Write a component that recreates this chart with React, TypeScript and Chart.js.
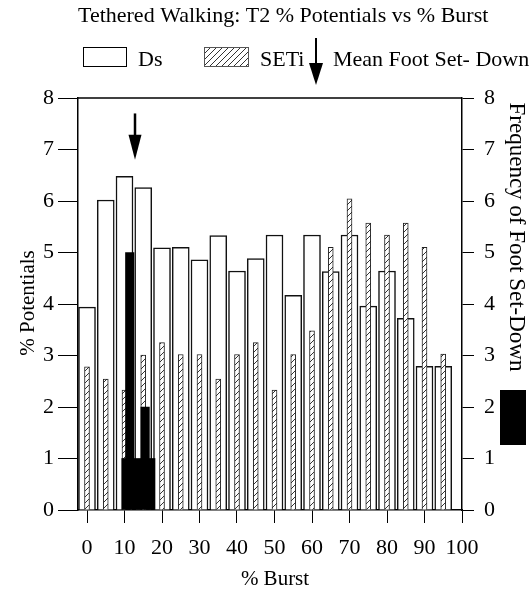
import React, { useEffect, useRef } from "react";
import { Chart, registerables } from "chart.js";
Chart.register(...registerables);

// ---- data ----
const burstBins = [0, 5, 10, 15, 20, 25, 30, 35, 40, 45, 50, 55, 60, 65, 70, 75, 80, 85, 90, 95];
const dsPotentials = [3.94, 6.02, 6.48, 6.26, 5.09, 5.1, 4.86, 5.33, 4.64, 4.88, 5.34, 4.17, 5.34, 4.63, 5.34, 3.96, 4.64, 3.72, 2.79, 2.79];
const setiPotentials = [2.78, 2.54, 2.33, 3.01, 3.25, 3.02, 3.02, 2.54, 3.02, 3.25, 2.33, 3.02, 3.48, 5.1, 6.04, 5.57, 5.34, 5.57, 5.1, 3.03];
const footSetDownX = [10.4, 11.4, 13.5, 15.5, 17.0];
const footSetDownFreq = [1, 5, 1, 2, 1];
const meanFootSetDown = 12.8;
const arrowTopValue = 7.7;
const arrowTipValue = 6.8;
const xTicks = [0, 10, 20, 30, 40, 50, 60, 70, 80, 90, 100];
const yTicks = [0, 1, 2, 3, 4, 5, 6, 7, 8];
const xMin = -2.4;
const xMax = 100;

const TITLE = "Tethered Walking: T2 % Potentials vs % Burst";
const FONT = "Liberation Serif, Times New Roman, serif";

function makeHatch(): CanvasPattern | string {
  const c = document.createElement("canvas");
  c.width = 6;
  c.height = 6;
  const g = c.getContext("2d");
  if (!g) return "#ccc";
  g.fillStyle = "#fff";
  g.fillRect(0, 0, 6, 6);
  g.strokeStyle = "#333";
  g.lineWidth = 1;
  g.beginPath();
  g.moveTo(0, 6);
  g.lineTo(6, 0);
  g.moveTo(-1, 1);
  g.lineTo(1, -1);
  g.moveTo(5, 7);
  g.lineTo(7, 5);
  g.stroke();
  const p = g.createPattern(c, "repeat");
  return p || "#ccc";
}

function drawArrow(ctx: CanvasRenderingContext2D, x: number, yTop: number, yTip: number, headLen: number, headW: number, shaftW: number) {
  ctx.save();
  ctx.strokeStyle = "#000";
  ctx.fillStyle = "#000";
  ctx.lineWidth = shaftW;
  ctx.beginPath();
  ctx.moveTo(x, yTop);
  ctx.lineTo(x, yTip - headLen + 1);
  ctx.stroke();
  ctx.beginPath();
  ctx.moveTo(x - headW / 2, yTip - headLen);
  ctx.lineTo(x + headW / 2, yTip - headLen);
  ctx.lineTo(x, yTip);
  ctx.closePath();
  ctx.fill();
  ctx.restore();
}

export default function App() {
  const ref = useRef<HTMLCanvasElement | null>(null);

  useEffect(() => {
    const canvas = ref.current;
    if (!canvas) return;
    const hatch = makeHatch();

    const decor = {
      id: "decor",
      afterDraw(chart: any) {
        const { ctx, chartArea: ca, scales } = chart;
        ctx.save();
        // top frame line
        ctx.strokeStyle = "#000";
        ctx.lineWidth = 1.5;
        ctx.beginPath();
        ctx.moveTo(ca.left, ca.top);
        ctx.lineTo(ca.right, ca.top);
        ctx.stroke();

        // mean foot set-down arrow in plot
        const ax = scales.x.getPixelForValue(meanFootSetDown);
        drawArrow(ctx, ax, scales.y.getPixelForValue(arrowTopValue), scales.y.getPixelForValue(arrowTipValue), 25, 13, 2.5);

        // title
        ctx.fillStyle = "#000";
        ctx.font = `22px ${FONT}`;
        ctx.textAlign = "left";
        ctx.textBaseline = "alphabetic";
        ctx.fillText(TITLE, 78, 22);

        // legend
        ctx.font = `22px ${FONT}`;
        ctx.textAlign = "left";
        ctx.lineWidth = 1;
        ctx.strokeStyle = "#000";
        ctx.fillStyle = "#fff";
        ctx.fillRect(83, 47, 43, 19);
        ctx.strokeRect(83.5, 47.5, 43, 19);
        ctx.fillStyle = "#000";
        ctx.fillText("Ds", 138, 66);
        ctx.fillStyle = hatch as any;
        ctx.fillRect(204, 47, 44, 19);
        ctx.strokeStyle = "#555";
        ctx.strokeRect(204.5, 47.5, 44, 19);
        ctx.fillStyle = "#000";
        ctx.fillText("SETi", 260, 66);
        drawArrow(ctx, 316, 38, 85, 22, 14, 2);
        ctx.fillText("Mean Foot Set- Down", 333, 66);

        // axis titles
        ctx.font = `21px ${FONT}`;
        ctx.textAlign = "center";
        ctx.textBaseline = "middle";
        ctx.fillText("% Burst", 275, 579);

        ctx.save();
        ctx.translate(28, 303);
        ctx.rotate(-Math.PI / 2);
        ctx.font = `21px ${FONT}`;
        ctx.fillText("% Potentials", 0, 0);
        ctx.restore();

        ctx.save();
        ctx.translate(516, 237);
        ctx.rotate(Math.PI / 2);
        ctx.font = `23px ${FONT}`;
        ctx.fillText("Frequency of Foot Set-Down", 0, 0);
        ctx.restore();

        // black legend swatch for frequency
        ctx.fillStyle = "#000";
        ctx.fillRect(500, 390, 26, 55);
        ctx.restore();
      },
    };

    const tickFont = { family: FONT, size: 22 };

    const chart = new Chart(canvas, {
      type: "bar",
      data: {
        datasets: [
          {
            label: "Frequency of Foot Set-Down",
            data: footSetDownX.map((x, i) => ({ x, y: footSetDownFreq[i] })),
            backgroundColor: "#000",
            borderWidth: 0,
            barThickness: 8.5,
            yAxisID: "y1",
            order: 0,
          } as any,
          {
            label: "SETi",
            data: burstBins.map((x, i) => ({ x, y: setiPotentials[i] })),
            backgroundColor: hatch as any,
            borderColor: "#222",
            borderWidth: 1,
            barThickness: 5,
            yAxisID: "y",
            order: 1,
          } as any,
          {
            label: "Ds",
            data: burstBins.map((x, i) => ({ x, y: dsPotentials[i] })),
            backgroundColor: "#fff",
            borderColor: "#111",
            borderWidth: 1.5,
            barThickness: 17,
            yAxisID: "y",
            order: 2,
          } as any,
        ],
      },
      options: {
        responsive: false,
        animation: false,
        devicePixelRatio: 1,
        datasets: { bar: { grouped: false } } as any,
        layout: { padding: { top: 98, left: 0, right: 0, bottom: 0 } },
        plugins: {
          legend: { display: false },
          title: { display: false },
          tooltip: { enabled: false },
        },
        scales: {
          x: {
            type: "linear",
            min: xMin,
            max: xMax,
            offset: false,
            afterBuildTicks: (s: any) => {
              s.ticks = xTicks.map((v) => ({ value: v }));
            },
            afterFit: (s: any) => {
              s.height = 81;
            },
            ticks: { font: tickFont, color: "#000", padding: 12, maxRotation: 0, autoSkip: false },
            grid: { offset: false, drawOnChartArea: false, drawTicks: true, tickLength: 13, color: "#000", lineWidth: 1 },
            border: { display: true, color: "#000", width: 1.5 },
          } as any,
          y: {
            type: "linear",
            position: "left",
            min: 0,
            max: 8,
            afterBuildTicks: (s: any) => {
              s.ticks = yTicks.map((v) => ({ value: v }));
            },
            afterFit: (s: any) => {
              s.width = 78;
            },
            ticks: { font: tickFont, color: "#000", padding: 4 },
            grid: { drawOnChartArea: false, drawTicks: true, tickLength: 20, color: "#000", lineWidth: 1 },
            border: { display: true, color: "#000", width: 1.5 },
          } as any,
          y1: {
            type: "linear",
            position: "right",
            min: 0,
            max: 8,
            afterBuildTicks: (s: any) => {
              s.ticks = yTicks.map((v) => ({ value: v }));
            },
            afterFit: (s: any) => {
              s.width = 70;
            },
            ticks: { font: tickFont, color: "#000", padding: 10 },
            grid: { drawOnChartArea: false, drawTicks: true, tickLength: 12, color: "#000", lineWidth: 1 },
            border: { display: true, color: "#000", width: 1.5 },
          } as any,
        },
      },
      plugins: [decor],
    });

    return () => chart.destroy();
  }, []);

  return (
    <div style={{ position: "absolute", left: 0, top: 0, width: 532, height: 591, background: "#fff" }}>
      <canvas ref={ref} width={532} height={591} style={{ display: "block" }} />
    </div>
  );
}
